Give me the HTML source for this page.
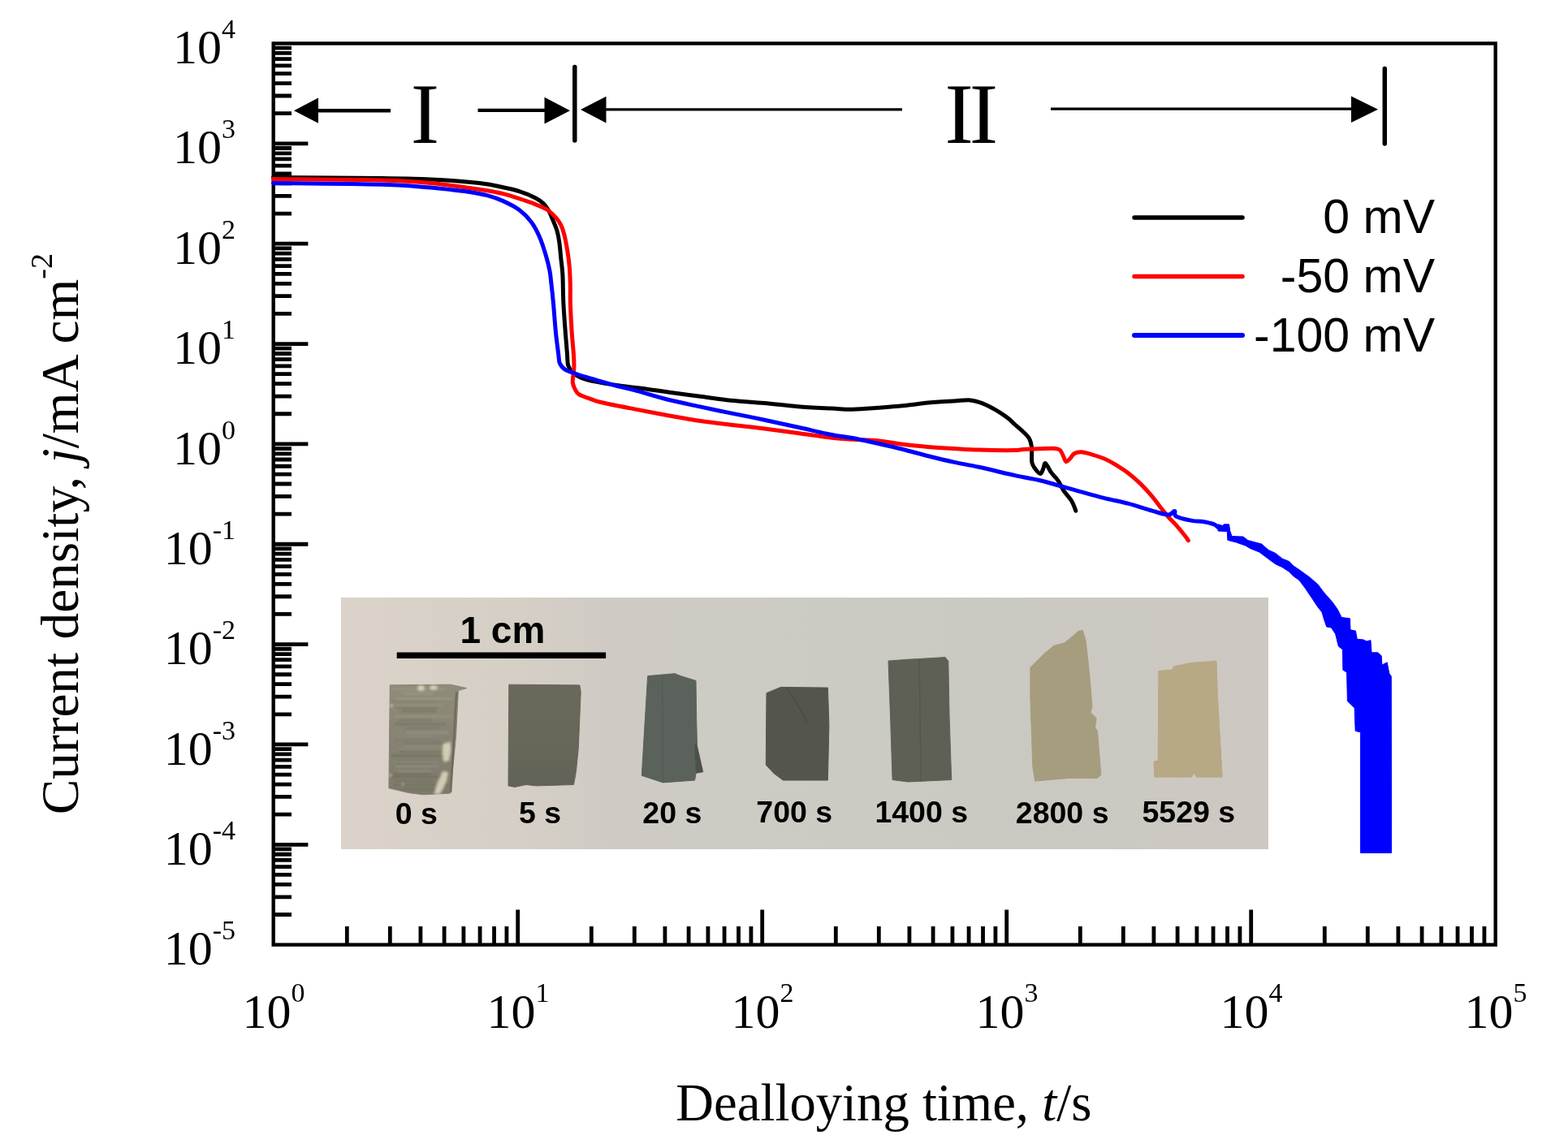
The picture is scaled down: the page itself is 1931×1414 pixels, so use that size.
<!DOCTYPE html><html><head><meta charset="utf-8"><title>Dealloying current density</title>
<style>html,body{margin:0;padding:0;background:#fff;}svg{display:block;}</style></head><body>
<svg width="1931" height="1414" viewBox="0 0 1931 1414">
<rect x="0" y="0" width="1931" height="1414" fill="#fff"/>
<g>
<path d="M336.7 1126.52H359M336.7 1104.80H359M336.7 1089.39H359M336.7 1077.43H359M336.7 1067.67H359M336.7 1059.41H359M336.7 1052.25H359M336.7 1045.94H359M336.7 1040.30H379.4M336.7 1003.17H359M336.7 981.45H359M336.7 966.04H359M336.7 954.08H359M336.7 944.32H359M336.7 936.06H359M336.7 928.90H359M336.7 922.59H359M336.7 916.95H379.4M336.7 879.82H359M336.7 858.10H359M336.7 842.69H359M336.7 830.73H359M336.7 820.97H359M336.7 812.71H359M336.7 805.55H359M336.7 799.24H359M336.7 793.60H379.4M336.7 756.47H359M336.7 734.75H359M336.7 719.34H359M336.7 707.38H359M336.7 697.62H359M336.7 689.36H359M336.7 682.20H359M336.7 675.89H359M336.7 670.25H379.4M336.7 633.12H359M336.7 611.40H359M336.7 595.99H359M336.7 584.03H359M336.7 574.27H359M336.7 566.01H359M336.7 558.85H359M336.7 552.54H359M336.7 546.90H379.4M336.7 509.77H359M336.7 488.05H359M336.7 472.64H359M336.7 460.68H359M336.7 450.92H359M336.7 442.66H359M336.7 435.50H359M336.7 429.19H359M336.7 423.55H379.4M336.7 386.42H359M336.7 364.70H359M336.7 349.29H359M336.7 337.33H359M336.7 327.57H359M336.7 319.31H359M336.7 312.15H359M336.7 305.84H359M336.7 300.20H379.4M336.7 263.07H359M336.7 241.35H359M336.7 225.94H359M336.7 213.98H359M336.7 204.22H359M336.7 195.96H359M336.7 188.80H359M336.7 182.49H359M336.7 176.85H379.4M336.7 139.72H359M336.7 118.00H359M336.7 102.59H359M336.7 90.63H359M336.7 80.87H359M336.7 72.61H359M336.7 65.45H359M336.7 59.14H359M427.31 1163.6V1141M480.31 1163.6V1141M517.92 1163.6V1141M547.09 1163.6V1141M570.92 1163.6V1141M591.07 1163.6V1141M608.53 1163.6V1141M623.93 1163.6V1141M637.70 1163.6V1120.5M728.31 1163.6V1141M781.31 1163.6V1141M818.92 1163.6V1141M848.09 1163.6V1141M871.92 1163.6V1141M892.07 1163.6V1141M909.53 1163.6V1141M924.93 1163.6V1141M938.70 1163.6V1120.5M1029.31 1163.6V1141M1082.31 1163.6V1141M1119.92 1163.6V1141M1149.09 1163.6V1141M1172.92 1163.6V1141M1193.07 1163.6V1141M1210.53 1163.6V1141M1225.93 1163.6V1141M1239.70 1163.6V1120.5M1330.31 1163.6V1141M1383.31 1163.6V1141M1420.92 1163.6V1141M1450.09 1163.6V1141M1473.92 1163.6V1141M1494.07 1163.6V1141M1511.53 1163.6V1141M1526.93 1163.6V1141M1540.70 1163.6V1120.5M1631.31 1163.6V1141M1684.31 1163.6V1141M1721.92 1163.6V1141M1751.09 1163.6V1141M1774.92 1163.6V1141M1795.07 1163.6V1141M1812.53 1163.6V1141M1827.93 1163.6V1141" stroke="#000" stroke-width="4.8" fill="none"/>
<rect x="336.7" y="53.5" width="1505.0" height="1110.15" fill="none" stroke="#000" stroke-width="4.4"/>
<g font-family="Liberation Serif, Times New Roman, serif" fill="#000"><text x="290" y="1188.2" text-anchor="end" font-size="60">10<tspan font-size="34" dy="-31">-5</tspan></text><text x="290" y="1064.9" text-anchor="end" font-size="60">10<tspan font-size="34" dy="-31">-4</tspan></text><text x="290" y="941.5" text-anchor="end" font-size="60">10<tspan font-size="34" dy="-31">-3</tspan></text><text x="290" y="818.2" text-anchor="end" font-size="60">10<tspan font-size="34" dy="-31">-2</tspan></text><text x="290" y="694.9" text-anchor="end" font-size="60">10<tspan font-size="34" dy="-31">-1</tspan></text><text x="290" y="571.5" text-anchor="end" font-size="60">10<tspan font-size="34" dy="-31">0</tspan></text><text x="290" y="448.1" text-anchor="end" font-size="60">10<tspan font-size="34" dy="-31">1</tspan></text><text x="290" y="324.8" text-anchor="end" font-size="60">10<tspan font-size="34" dy="-31">2</tspan></text><text x="290" y="201.4" text-anchor="end" font-size="60">10<tspan font-size="34" dy="-31">3</tspan></text><text x="290" y="78.1" text-anchor="end" font-size="60">10<tspan font-size="34" dy="-31">4</tspan></text><text x="298.6" y="1266.4" font-size="60">10<tspan font-size="34" dy="-32">0</tspan></text><text x="599.6" y="1266.4" font-size="60">10<tspan font-size="34" dy="-32">1</tspan></text><text x="900.6" y="1266.4" font-size="60">10<tspan font-size="34" dy="-32">2</tspan></text><text x="1201.6" y="1266.4" font-size="60">10<tspan font-size="34" dy="-32">3</tspan></text><text x="1502.6" y="1266.4" font-size="60">10<tspan font-size="34" dy="-32">4</tspan></text><text x="1803.6" y="1266.4" font-size="60">10<tspan font-size="34" dy="-32">5</tspan></text></g>
<text font-family="Liberation Serif, Times New Roman, serif" font-size="65.3" fill="#000" transform="translate(96 1003.3) rotate(-90)">Current density, <tspan font-style="italic">j</tspan>/mA cm<tspan font-size="38" dy="-32">-2</tspan></text>
<text font-family="Liberation Serif, Times New Roman, serif" font-size="64.7" fill="#000" x="832.3" y="1380">Dealloying time, <tspan font-style="italic">t</tspan>/s</text>
<path d="M392 136.2H481M588.5 135.9H671" stroke="#000" stroke-width="4.4" fill="none"/><path d="M746 134.8H1111M1294 134.2H1664" stroke="#000" stroke-width="3.2" fill="none"/><path d="M362 136.2L392 120.5V151.8Z M702 136.2L670.5 119.7V152.5Z M715 135L746.5 118.7V151.4Z M1697 134.7L1664 118.6V150.9Z" fill="#000"/><path d="M707.8 82.5V173M1705.3 84.5V177" stroke="#000" stroke-width="5.5" stroke-linecap="round"/>
<text font-family="Liberation Serif, Times New Roman, serif" font-size="106" fill="#000" x="505.8" y="175.5">I</text>
<text font-family="Liberation Serif, Times New Roman, serif" font-size="106" fill="#000" x="1163.5" y="176" letter-spacing="-5">II</text>
<path d="M1397 268H1530" stroke="#000" stroke-width="5.5" stroke-linecap="round"/>
<path d="M1397 340.4H1530" stroke="#f00" stroke-width="5.5" stroke-linecap="round"/>
<path d="M1397 413H1530" stroke="#00f" stroke-width="6" stroke-linecap="round"/>
<g font-family="Liberation Sans, Arial, sans-serif" font-size="59" fill="#000" text-anchor="end"><text x="1767" y="287.3">0 mV</text><text x="1767" y="360">-50 mV</text><text x="1767" y="432.8">-100 mV</text></g>
<defs><linearGradient id="bgG" x1="420" y1="0" x2="1562" y2="0" gradientUnits="userSpaceOnUse"><stop offset="0" stop-color="#dbd3c9"/><stop offset="0.18" stop-color="#d6cfc6"/><stop offset="0.29" stop-color="#cfcbc4"/><stop offset="0.57" stop-color="#cbcbc3"/><stop offset="0.73" stop-color="#cac9c1"/><stop offset="0.86" stop-color="#ccc8c2"/><stop offset="1" stop-color="#cdc8c1"/></linearGradient><linearGradient id="g0" x1="0" y1="843" x2="0" y2="978" gradientUnits="userSpaceOnUse"><stop offset="0" stop-color="#8f8c7b"/><stop offset="0.5" stop-color="#868374"/><stop offset="1" stop-color="#7d7a6b"/></linearGradient><linearGradient id="g5" x1="0" y1="843" x2="0" y2="968" gradientUnits="userSpaceOnUse"><stop offset="0" stop-color="#6a685b"/><stop offset="0.5" stop-color="#68675a"/><stop offset="1" stop-color="#616356"/></linearGradient><filter id="bl2" x="-20%" y="-20%" width="140%" height="140%"><feGaussianBlur stdDeviation="2"/></filter><filter id="bl1" x="-10%" y="-10%" width="120%" height="120%"><feGaussianBlur stdDeviation="0.9"/></filter><filter id="bl3" x="-30%" y="-30%" width="160%" height="160%"><feGaussianBlur stdDeviation="1.4"/></filter></defs>
<g>
<rect x="420" y="736" width="1142" height="310" fill="url(#bgG)"/>
<rect x="488.7" y="803.5" width="257.4" height="7.5" fill="#000"/>
<text font-family="Liberation Sans, Arial, sans-serif" font-weight="bold" font-size="46" x="566.5" y="792.3" fill="#000">1 cm</text>
<path d="M480.3 843.9 L554.3 843.2 L574.6 847.6 L564.4 850.5 L561.5 907.0 L557.2 950.5 L555.0 976.6 L552.8 977.3 L520.9 978.8 L503.5 976.6 L478.9 970.8Z" fill="url(#g0)" stroke="#858273" stroke-width="1" stroke-linejoin="round"/>
<path d="M626.8 843.2 L713.8 843.9 L715.2 851.9 L712.3 921.5 L709.4 950.5 L706.5 966.5 L660.1 967.9 L648.0 966.5 L634.0 969.4 L626.0 967.9Z" fill="url(#g5)" stroke="#67665a" stroke-width="1" stroke-linejoin="round"/>
<path d="M797.6 832.6 L830.9 829.7 L838.2 832.6 L857.0 838.4 L857.7 887.0 L858.5 918.9 L865.7 950.8 L857.0 952.3 L855.6 961.0 L816.4 963.9 L790.3 955.2Z" fill="#5a625b" stroke="#5a625b" stroke-width="1" stroke-linejoin="round"/>
<path d="M944.0 853.7 L961.4 846.4 L1019.4 847.1 L1020.9 892.8 L1019.4 961.0 L964.3 961.0 L952.7 952.3 L943.3 942.1Z" fill="#54554d" stroke="#54554d" stroke-width="1" stroke-linejoin="round"/>
<path d="M1094.0 814.1 L1118.2 812.2 L1132.2 811.5 L1164.0 809.6 L1167.8 814.1 L1169.1 884.1 L1171.7 960.5 L1118.2 963.0 L1099.1 960.5 L1096.6 884.1Z" fill="#5f6055" stroke="#5f6055" stroke-width="1" stroke-linejoin="round"/>
<path d="M1268.9 822.2 L1286.3 804.8 L1297.9 795.4 L1310.9 791.8 L1318.2 786.0 L1328.3 777.3 L1333.4 776.5 L1337.0 788.9 L1339.9 813.5 L1342.8 842.5 L1345.0 871.5 L1342.8 877.3 L1350.1 884.6 L1348.6 896.2 L1351.5 900.5 L1355.9 954.2 L1351.5 958.5 L1315.3 958.5 L1274.7 962.1 L1271.8 944.0 L1268.9 859.9Z" fill="#a69d7e" stroke="#a69d7e" stroke-width="1" stroke-linejoin="round"/>
<path d="M1426.9 826.6 L1442.9 825.1 L1445.8 820.8 L1467.5 816.4 L1498.0 814.2 L1499.4 857.0 L1505.2 957.1 L1473.3 957.1 L1470.4 951.3 L1467.5 957.1 L1421.8 957.1 L1421.1 938.2 L1426.2 936.8Z" fill="#b7a886" stroke="#b7a886" stroke-width="1" stroke-linejoin="round"/>
<clipPath id="c0"><path d="M480.3 843.9 L554.3 843.2 L574.6 847.6 L564.4 850.5 L561.5 907.0 L557.2 950.5 L555.0 976.6 L552.8 977.3 L520.9 978.8 L503.5 976.6 L478.9 970.8Z"/></clipPath>
<g clip-path="url(#c0)"><g filter="url(#bl1)"><rect x="483.0" y="848.0" width="65.2" height="1.8" fill="#a9a692" opacity="0.41"/><rect x="490.1" y="851.6" width="40.9" height="1.3" fill="#a9a692" opacity="0.27"/><rect x="496.5" y="853.7" width="36.9" height="2.0" fill="#a9a692" opacity="0.44"/><rect x="487.9" y="859.5" width="69.4" height="2.2" fill="#a9a692" opacity="0.51"/><rect x="482.4" y="863.2" width="56.3" height="1.5" fill="#66634f" opacity="0.30"/><rect x="487.4" y="867.2" width="57.9" height="2.4" fill="#a9a692" opacity="0.27"/><rect x="488.6" y="870.8" width="50.2" height="2.4" fill="#66634f" opacity="0.39"/><rect x="494.0" y="874.8" width="42.9" height="2.6" fill="#66634f" opacity="0.41"/><rect x="485.8" y="881.0" width="71.7" height="2.5" fill="#a9a692" opacity="0.38"/><rect x="489.8" y="886.6" width="41.3" height="1.5" fill="#66634f" opacity="0.48"/><rect x="486.3" y="890.6" width="63.2" height="2.8" fill="#66634f" opacity="0.42"/><rect x="498.9" y="895.5" width="44.4" height="2.7" fill="#66634f" opacity="0.27"/><rect x="499.9" y="901.1" width="53.2" height="2.4" fill="#a9a692" opacity="0.37"/><rect x="489.2" y="906.3" width="45.5" height="1.2" fill="#a9a692" opacity="0.27"/><rect x="485.0" y="910.8" width="56.0" height="1.4" fill="#66634f" opacity="0.27"/><rect x="497.7" y="914.3" width="55.3" height="2.2" fill="#66634f" opacity="0.33"/><rect x="497.7" y="918.4" width="59.1" height="1.8" fill="#a9a692" opacity="0.30"/><rect x="489.7" y="921.6" width="56.8" height="1.6" fill="#a9a692" opacity="0.25"/><rect x="491.3" y="925.2" width="65.4" height="1.9" fill="#66634f" opacity="0.40"/><rect x="481.1" y="929.7" width="74.1" height="2.4" fill="#66634f" opacity="0.51"/><rect x="488.0" y="935.4" width="44.9" height="1.9" fill="#66634f" opacity="0.27"/><rect x="483.2" y="938.0" width="56.3" height="1.6" fill="#a9a692" opacity="0.25"/><rect x="487.3" y="940.6" width="43.4" height="1.4" fill="#66634f" opacity="0.43"/><rect x="486.9" y="943.0" width="53.2" height="1.7" fill="#a9a692" opacity="0.50"/><rect x="489.7" y="948.7" width="42.7" height="2.0" fill="#a9a692" opacity="0.35"/><rect x="483.2" y="952.1" width="47.4" height="2.7" fill="#66634f" opacity="0.41"/><rect x="480.5" y="955.8" width="64.2" height="2.2" fill="#66634f" opacity="0.51"/><rect x="487.3" y="961.0" width="47.3" height="1.7" fill="#66634f" opacity="0.41"/><rect x="484.5" y="965.9" width="68.3" height="1.8" fill="#66634f" opacity="0.51"/><rect x="494.8" y="971.0" width="41.6" height="2.7" fill="#66634f" opacity="0.36"/></g></g>
<g fill="#e6e0c6" filter="url(#bl3)" opacity="0.8"><ellipse cx="518.5" cy="847.5" rx="4.5" ry="3.5"/><ellipse cx="534" cy="847" rx="5" ry="3"/><path d="M545.5 916 L554.5 913.5 L555.5 925 L553 937 L546.5 938.5 L544.5 928 Z"/><path d="M545 950 L552 951 L550 962 L545.5 972 L541.5 978 L534.5 978 L537.5 967 Z"/><ellipse cx="482" cy="869" rx="2" ry="1.5"/><ellipse cx="481" cy="955" rx="1.5" ry="1.5"/><ellipse cx="496" cy="966" rx="1.5" ry="1"/></g>
<path d="M561 852 L563.5 852 L556.5 976 L554 976 Z" fill="#5e5a4c" opacity="0.6"/>
<path d="M855 915 L858.5 918.9 L865.7 950.8 L857 952.3 Z" fill="#4a514b"/>
<path d="M969 848 L978 862 L990 881 L994 890" stroke="#45463f" stroke-width="1.3" fill="none" opacity="0.7"/>
<path d="M815.5 832 L816.5 963" stroke="#4c554f" stroke-width="1.2" opacity="0.6"/>
<path d="M1132.2 812 L1134 962" stroke="#56574b" stroke-width="1.5"/>
<text font-family="Liberation Sans, Arial, sans-serif" font-weight="bold" font-size="37.5" x="486.8" y="1014.5" fill="#000">0 s</text>
<text font-family="Liberation Sans, Arial, sans-serif" font-weight="bold" font-size="37.5" x="639.0" y="1014.0" fill="#000">5 s</text>
<text font-family="Liberation Sans, Arial, sans-serif" font-weight="bold" font-size="37.5" x="791.3" y="1013.5" fill="#000">20 s</text>
<text font-family="Liberation Sans, Arial, sans-serif" font-weight="bold" font-size="37.5" x="931.3" y="1012.7" fill="#000">700 s</text>
<text font-family="Liberation Sans, Arial, sans-serif" font-weight="bold" font-size="37.5" x="1077.4" y="1012.7" fill="#000">1400 s</text>
<text font-family="Liberation Sans, Arial, sans-serif" font-weight="bold" font-size="37.5" x="1250.8" y="1013.5" fill="#000">2800 s</text>
<text font-family="Liberation Sans, Arial, sans-serif" font-weight="bold" font-size="37.5" x="1406.5" y="1013.3" fill="#000">5529 s</text>
</g>
<g fill="none" stroke-width="5" stroke-linejoin="round" stroke-linecap="round">
<path d="M336.5 218.6 C358.8 218.8 437.8 219.1 470.0 219.5 C502.2 219.9 511.7 220.2 530.0 221.0 C548.3 221.8 568.4 223.4 580.0 224.4 C591.6 225.4 593.2 225.7 599.8 226.8 C606.4 227.9 613.0 229.3 619.6 230.8 C626.2 232.3 632.8 233.5 639.4 235.7 C646.0 237.8 654.2 241.2 659.2 243.7 C664.2 246.2 666.3 247.9 669.1 250.6 C671.9 253.3 674.0 256.5 676.0 260.0 C678.0 263.5 679.3 267.3 681.0 271.4 C682.7 275.4 684.7 279.7 686.0 284.3 C687.3 288.9 688.1 293.3 688.9 299.1 C689.7 304.9 690.2 312.3 690.9 318.9 C691.6 325.5 692.4 329.5 692.9 338.7 C693.4 347.9 693.3 362.4 693.9 373.9 C694.5 385.4 695.4 397.5 696.2 407.9 C697.0 418.3 697.9 429.2 698.5 436.2 C699.1 443.2 698.5 445.9 699.6 449.7 C700.7 453.5 702.4 456.1 705.2 458.8 C708.0 461.5 711.9 463.7 716.6 465.6 C721.3 467.5 725.8 468.5 733.5 470.1 C741.2 471.7 752.1 473.4 762.9 475.0 C773.6 476.6 788.0 478.0 798.0 479.4 C808.0 480.8 811.8 481.6 822.8 483.1 C833.8 484.6 851.4 486.8 864.3 488.5 C877.2 490.2 887.1 491.9 900.0 493.2 C912.9 494.5 927.6 495.2 941.4 496.5 C955.2 497.8 969.0 499.6 982.8 500.7 C996.6 501.8 1013.1 502.5 1024.3 503.1 C1035.5 503.7 1040.5 504.4 1050.0 504.3 C1059.5 504.2 1070.8 503.1 1081.1 502.3 C1091.4 501.5 1101.8 500.7 1112.1 499.7 C1122.4 498.7 1132.8 497.1 1143.2 496.1 C1153.6 495.2 1165.7 494.5 1174.3 494.0 C1182.9 493.5 1189.0 492.4 1195.0 492.9 C1201.0 493.4 1205.3 495.1 1210.5 497.1 C1215.7 499.1 1220.9 501.9 1226.1 504.9 C1231.3 507.9 1237.6 512.2 1241.6 515.2 C1245.6 518.2 1247.0 520.3 1250.0 523.0 C1253.0 525.7 1256.8 528.7 1259.7 531.5 C1262.6 534.3 1265.6 536.9 1267.4 540.0 C1269.2 543.1 1269.9 546.6 1270.4 549.9 C1270.9 553.2 1270.5 556.5 1270.6 559.8 C1270.7 563.1 1270.2 566.7 1270.9 569.7 C1271.6 572.7 1273.2 575.3 1274.9 577.6 C1276.6 579.9 1279.7 583.7 1281.3 583.6 C1282.9 583.5 1283.9 579.2 1284.8 577.1 C1285.7 575.0 1285.9 571.3 1286.7 570.7 C1287.5 570.1 1288.4 571.8 1289.7 573.7 C1291.0 575.6 1292.8 579.5 1294.7 582.1 C1296.6 584.7 1299.4 587.4 1301.1 589.5 C1302.8 591.6 1303.1 592.0 1304.6 594.5 C1306.1 597.0 1307.4 600.6 1309.9 604.4 C1312.4 608.2 1317.3 613.1 1319.8 617.2 C1322.3 621.3 1324.0 627.1 1324.8 629.1" stroke="#000"/>
<path d="M336.5 220.5 C358.8 220.8 437.8 221.2 470.0 222.0 C502.2 222.8 511.7 223.9 530.0 225.5 C548.3 227.1 568.4 230.2 580.0 231.8 C591.6 233.4 593.2 233.7 599.8 234.8 C606.4 236.0 613.0 237.0 619.6 238.7 C626.2 240.3 632.8 242.5 639.4 244.7 C646.0 246.8 653.4 249.3 659.2 251.6 C665.0 253.9 670.0 255.9 674.1 258.5 C678.2 261.1 681.2 264.3 684.0 267.4 C686.8 270.5 689.1 273.7 690.9 277.3 C692.7 280.9 693.6 283.9 694.9 289.2 C696.2 294.5 697.7 302.4 698.8 309.0 C699.9 315.6 700.7 322.0 701.3 328.8 C701.9 335.6 702.1 342.5 702.3 350.0 C702.5 357.5 702.1 364.2 702.4 373.9 C702.7 383.5 703.4 397.5 704.1 407.9 C704.8 418.3 705.9 428.7 706.4 436.2 C706.9 443.7 707.1 447.5 706.9 453.1 C706.7 458.8 705.0 465.8 705.2 470.1 C705.4 474.4 706.7 476.4 708.0 479.0 C709.3 481.6 709.9 483.8 713.2 485.9 C716.5 488.0 723.4 490.0 727.9 491.6 C732.4 493.2 731.1 493.4 740.0 495.5 C748.9 497.6 767.6 501.2 781.4 503.9 C795.2 506.6 809.0 509.2 822.8 511.7 C836.6 514.2 851.4 516.9 864.3 518.8 C877.2 520.7 887.1 521.7 900.0 523.2 C912.9 524.7 927.6 526.3 941.4 528.0 C955.2 529.7 969.0 531.5 982.8 533.4 C996.6 535.3 1013.1 537.9 1024.3 539.2 C1035.5 540.5 1040.5 540.7 1050.0 541.3 C1059.5 541.9 1070.8 541.8 1081.1 542.8 C1091.4 543.8 1101.8 546.0 1112.1 547.3 C1122.4 548.6 1132.8 549.5 1143.2 550.4 C1153.6 551.3 1163.9 551.9 1174.3 552.5 C1184.7 553.1 1192.8 553.8 1205.4 554.1 C1218.0 554.5 1240.9 554.7 1250.0 554.6 C1259.1 554.5 1255.0 553.7 1260.0 553.4 C1265.0 553.1 1273.1 553.0 1279.8 552.8 C1286.5 552.6 1295.7 552.0 1300.0 552.4 C1304.3 552.8 1304.2 553.2 1305.9 554.9 C1307.6 556.6 1308.7 560.5 1309.9 562.8 C1311.1 565.1 1311.6 568.4 1312.9 568.7 C1314.2 569.0 1316.2 566.4 1317.8 564.8 C1319.4 563.1 1320.5 560.1 1322.8 558.8 C1325.1 557.5 1328.1 556.6 1331.7 556.8 C1335.3 557.0 1340.0 558.5 1344.6 559.8 C1349.2 561.1 1354.5 562.6 1359.4 564.8 C1364.4 566.9 1369.3 569.7 1374.3 572.7 C1379.2 575.7 1384.1 578.8 1389.1 582.6 C1394.0 586.4 1399.0 590.6 1404.0 595.4 C1409.0 600.2 1414.7 606.5 1418.8 611.3 C1422.9 616.1 1425.4 620.0 1428.7 624.2 C1432.0 628.4 1435.3 632.7 1438.6 636.5 C1441.9 640.3 1445.2 643.2 1448.5 646.9 C1451.8 650.6 1455.9 655.7 1458.4 658.8 C1460.9 661.9 1462.6 664.6 1463.4 665.7" stroke="#f00"/>
<path d="M336.5 225.5 C358.8 225.8 437.8 226.4 470.0 227.3 C502.2 228.2 515.4 229.9 530.0 231.0 C544.6 232.1 549.6 233.1 557.9 234.0 C566.2 234.9 573.0 235.6 580.0 236.7 C587.0 237.8 593.2 238.9 599.8 240.7 C606.4 242.5 613.0 244.6 619.6 247.6 C626.2 250.6 633.6 254.2 639.4 258.5 C645.2 262.8 650.2 267.9 654.3 273.4 C658.4 278.8 661.2 284.4 664.2 291.2 C667.2 298.0 670.0 306.9 672.1 314.0 C674.2 321.1 675.9 327.8 677.0 333.8 C678.1 339.8 678.2 343.3 679.0 350.0 C679.8 356.7 680.6 364.2 681.5 373.9 C682.4 383.5 683.3 397.5 684.3 407.9 C685.3 418.3 686.9 429.6 687.7 436.2 C688.6 442.8 688.0 444.3 689.4 447.5 C690.8 450.7 692.6 453.1 696.2 455.4 C699.8 457.6 704.7 458.9 710.9 461.0 C717.1 463.1 725.3 465.4 733.5 467.8 C741.7 470.2 752.0 473.4 760.0 475.5 C768.0 477.6 770.9 477.9 781.4 480.7 C791.9 483.5 809.0 488.9 822.8 492.3 C836.6 495.8 851.4 498.6 864.3 501.4 C877.2 504.2 887.1 506.3 900.0 508.9 C912.9 511.5 927.6 514.3 941.4 517.2 C955.2 520.1 969.0 523.2 982.8 526.3 C996.6 529.3 1013.1 533.3 1024.3 535.5 C1035.5 537.7 1040.5 537.7 1050.0 539.5 C1059.5 541.3 1070.8 544.0 1081.1 546.3 C1091.4 548.6 1101.8 550.9 1112.1 553.5 C1122.4 556.1 1132.8 559.2 1143.2 561.8 C1153.6 564.4 1163.9 566.9 1174.3 569.1 C1184.7 571.4 1192.8 572.5 1205.4 575.3 C1218.0 578.0 1237.6 582.9 1250.0 585.6 C1262.4 588.3 1271.5 589.6 1279.8 591.5 C1288.1 593.4 1291.7 594.7 1300.0 597.0 C1308.3 599.3 1319.8 602.6 1329.7 605.3 C1339.6 608.0 1349.5 610.8 1359.4 613.3 C1369.3 615.8 1379.2 617.6 1389.1 620.2 C1399.0 622.8 1410.5 626.8 1418.8 629.1 C1427.0 631.4 1434.0 634.0 1438.6 634.1 C1443.2 634.2 1444.8 629.2 1446.5 629.5 C1448.2 629.8 1444.9 634.0 1448.5 636.0 C1452.1 638.0 1463.1 640.4 1468.3 641.4 C1473.5 642.4 1475.4 641.6 1479.8 642.3 C1484.2 643.0 1491.3 644.5 1494.7 645.7 C1498.1 646.9 1499.1 648.9 1500.0 649.5" stroke="#00f"/>
</g>
<path d="M1500.0 645.8 L1505.7 647.5 L1507.4 645.8 L1513.6 645.8 L1514.7 653.7 L1517.0 660.5 L1531.1 661.1 L1536.8 665.6 L1553.7 670.1 L1562.2 677.5 L1570.7 681.4 L1579.2 688.2 L1587.7 691.6 L1593.3 697.3 L1600.0 701.8 L1612.7 710.9 L1622.9 719.8 L1630.6 730.0 L1640.7 741.4 L1647.1 750.4 L1652.2 760.5 L1662.4 761.8 L1663.0 775.8 L1669.4 777.1 L1671.3 787.3 L1678.9 787.9 L1683.0 790.0 L1687.9 788.6 L1689.1 803.8 L1696.8 803.8 L1701.2 807.7 L1701.9 819.1 L1708.2 815.9 L1710.8 829.3 L1713.3 833.1 L1713.6 1050.5 L1675.6 1050.5 L1675.6 901.8 L1669.2 900.3 L1668.1 872.0 L1659.4 863.5 L1658.6 827.9 L1653.9 825.3 L1653.5 799.9 L1648.4 796.1 L1644.6 780.8 L1639.5 773.1 L1633.7 771.9 L1630.6 763.0 L1628.0 754.0 L1622.9 747.7 L1615.3 736.2 L1607.6 724.8 L1600.0 714.6 L1593.3 710.0 L1587.7 704.3 L1579.2 698.7 L1570.7 694.7 L1562.2 688.5 L1550.9 680.0 L1539.6 675.5 L1533.9 672.1 L1522.6 668.1 L1511.9 665.3 L1511.3 654.6 L1500.0 654.0Z" fill="#00f" stroke="#00f" stroke-width="1" stroke-linejoin="round"/>
</g>
</svg></body></html>
